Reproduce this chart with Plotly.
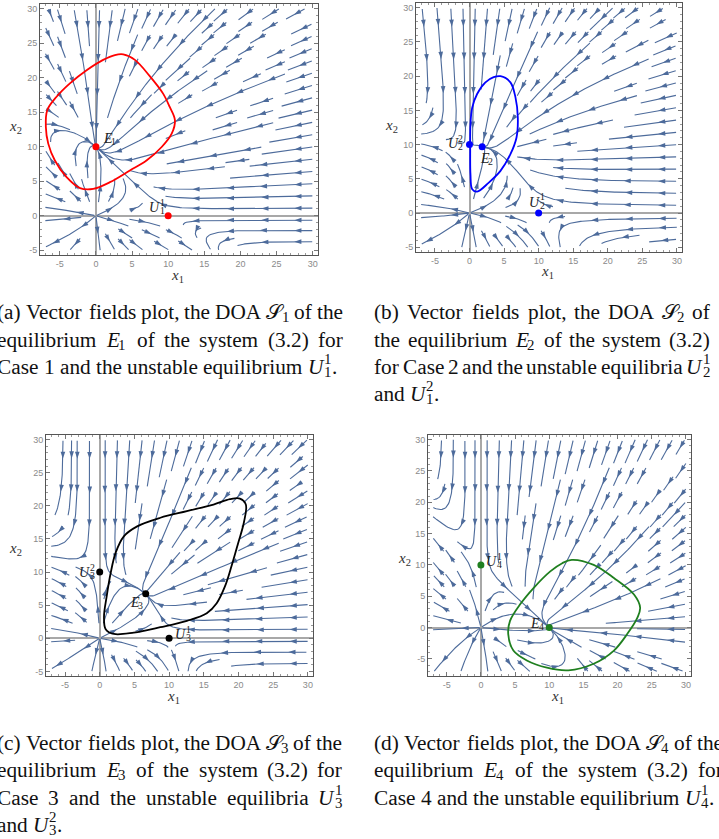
import math
import re
import numpy as np
import plotly.graph_objects as go

FIG_W, FIG_H = 719, 839

# ---------------- data ----------------
# system (3.2): x1' = x1 (r1 - a11 x1 - a12 x2), x2' = x2 (r2 - a21 x1 - a22 x2)
# parameters [r1, r2, a11, a12, a21, a22], chosen so the equilibria sit where the picture shows them
params_a = [1.0, 1.0, 0.1, 0.15, 0.05, 0.1]
params_b = [1.0, 1.0, 0.1, 0.0845, 0.0167, 0.1]
params_c = [1.0, 1.0, 0.1, 0.0507, 0.05, 0.1]
params_d = [1.0, 1.0, 0.1, 0.05, 0.15, 0.1]

# equilibria (x1, x2) and their labels (base, sup, sub)
eq_a_x = [0, 10]
eq_a_y = [10, 0]
eq_a_lab = [("E", "", "1"), ("U", "1", "1")]
eq_b_x = [1.83, 0, 10]
eq_b_y = [9.68, 10, 0]
eq_b_lab = [("E", "", "2"), ("U", "2", "2"), ("U", "1", "2")]
eq_c_x = [6.63, 0, 10]
eq_c_y = [6.72, 10, 0]
eq_c_lab = [("E", "", "3"), ("U", "2", "3"), ("U", "1", "3")]
eq_d_x = [10, 0]
eq_d_y = [0, 10]
eq_d_lab = [("E", "", "4"), ("U", "1", "4")]

# DOA boundary curves
doa_a_x = [3.78, 5.4, 7.48, 9.3, 10.2, 10.94, 10.49, 9.1, 7.0, 4.7, 1.94, -0.37, -2.2, -4.06, -5.68, -6.6, -6.93, -6.74, -5.45, -3.6, -1.29, 1.0, 2.63]
doa_a_y = [23.4, 22.6, 20.2, 17.7, 15.8, 13.85, 11.9, 9.96, 8.0, 6.56, 4.86, 3.89, 4.0, 5.58, 8.0, 10.45, 12.87, 15.3, 17.25, 19.2, 21.1, 22.6, 23.3]
doa_b_x = [4.48, 5.92, 6.65, 6.99, 6.8, 5.92, 4.48, 2.79, 1.1, 0.39, 0.14, 0.1, 0.14, 0.39, 1.1, 2.3, 3.5]
doa_b_y = [20.0, 19.1, 16.9, 13.97, 11.04, 8.6, 6.16, 4.45, 3.13, 3.47, 5.67, 9.1, 13.0, 15.4, 17.4, 19.1, 19.85]
doa_c_x = [20.2, 21.06, 20.77, 19.96, 19.0, 18.05, 16.86, 15.43, 12.56, 8.74, 4.92, 2.05, 0.86, 0.62, 1.0, 1.58, 2.29, 3.48, 5.4, 8.74, 12.56, 16.4, 18.77]
doa_c_y = [21.1, 20.2, 17.45, 14.4, 10.9, 7.83, 5.3, 3.79, 2.63, 1.67, 0.86, 0.65, 1.37, 3.28, 6.3, 9.86, 12.9, 15.4, 16.9, 18.2, 19.2, 20.2, 21.0]
doa_d_x = [13.3, 16.5, 19.46, 22.4, 23.3, 22.9, 21.4, 19.46, 16.5, 12.8, 9.66, 6.72, 4.75, 4.0, 4.26, 5.74, 7.7, 10.15, 11.9]
doa_d_y = [10.8, 10.0, 7.9, 5.27, 3.16, 1.58, -1.05, -3.68, -5.79, -6.84, -6.42, -5.26, -3.68, -1.05, 1.06, 3.7, 6.3, 8.96, 10.27]

tick_vals = [-5, 0, 5, 10, 15, 20, 25, 30]
tick_text = ["-5", "0", "5", "10", "15", "20", "25", "30"]

# captions ($B^p_b$ = math symbol B with superscript p and subscript b)
cap_a = ["(a) Vector fields plot, the DOA $𝒮_1$ of the",
         "equilibrium $E_1$ of the system (3.2) for",
         "Case 1 and the unstable equilibrium $U^1_1$."]
cap_b = ["(b) Vector fields plot, the DOA $𝒮_2$ of",
         "the equilibrium $E_2$ of the system (3.2)",
         "for Case 2 and the unstable equilibria $U^1_2$",
         "and $U^2_1$."]
cap_c = ["(c) Vector fields plot, the DOA $𝒮_3$ of the",
         "equilibrium $E_3$ of the system (3.2) for",
         "Case 3 and the unstable equilibria $U^1_3$",
         "and $U^2_3$."]
cap_d = ["(d) Vector fields plot, the DOA $𝒮_4$ of the",
         "equilibrium $E_4$ of the system (3.2) for",
         "Case 4 and the unstable equilibrium $U^1_4$."]

# ---------------- styling / layout ----------------
STREAM_COLOR = "#4d6b9b"
XR = [-7.74, 30.74]
SERIF = "Liberation Serif"

panels = [
    dict(params=params_a, ex=eq_a_x, ey=eq_a_y, lab=eq_a_lab, sinks=[0],
         lab_off=[(13, 8), (-12, 8)], doa_x=doa_a_x, doa_y=doa_a_y, col="#ff0000",
         px=(40, 318), py=(4, 255), yr=[-5.7, 30.7], box=(-7, 30, -5, 30),
         x1lab=(177, 276), x2lab=(15, 127)),
    dict(params=params_b, ex=eq_b_x, ey=eq_b_y, lab=eq_b_lab, sinks=[0],
         lab_off=[(4, -12), (-15, 1), (-3, 11)], doa_x=doa_b_x, doa_y=doa_b_y, col="#0000ff",
         px=(416, 682), py=(3, 252), yr=[-5.7, 30.7], box=(-7, 30, -5, 30),
         x1lab=(547, 272), x2lab=(391, 126)),
    dict(params=params_c, ex=eq_c_x, ey=eq_c_y, lab=eq_c_lab, sinks=[0],
         lab_off=[(-10, -9), (-14, 0), (13, 4)], doa_x=doa_c_x, doa_y=doa_c_y, col="#000000",
         px=(46, 313), py=(435, 676), yr=[-5.7, 30.7], box=(-7, 30, -5, 30),
         x1lab=(173, 697), x2lab=(15, 549)),
    dict(params=params_d, ex=eq_d_x, ey=eq_d_y, lab=eq_d_lab, sinks=[0],
         lab_off=[(-13, 4), (12, 3)], doa_x=doa_d_x, doa_y=doa_d_y, col="#1f7f1f",
         px=(428, 691), py=(435, 676), yr=[-7.74, 30.74], box=(-7, 30, -7, 30),
         x1lab=(557, 697), x2lab=(404, 559)),
]

# Times-like advance widths (per em) used to lay out justified captions
_W = {" ": .25, "(": .333, ")": .333, ",": .25, ".": .25,
      "a": .444, "b": .5, "c": .444, "d": .5, "e": .444, "f": .333, "g": .5, "h": .5, "i": .278,
      "j": .278, "k": .5, "l": .278, "m": .778, "n": .5, "o": .5, "p": .5, "q": .5, "r": .333,
      "s": .389, "t": .278, "u": .5, "v": .5, "w": .722, "x": .5, "y": .5, "z": .444,
      "A": .722, "C": .667, "D": .722, "E": .611, "O": .722, "S": .556, "U": .722, "V": .722,
      "𝒮": .72}


def tw(s, size):
    return sum(_W.get(ch, .5) for ch in s) * size


def build_streams(params, box, sx, sy, eqx, eqy, sinks, cell=12.0, step=1.5,
                  maxlen=700.0, minlen=14.0, gap=34.0):
    r1, r2, a11, a12, a21, a22 = params
    bx0, bx1, by0, by1 = box
    Wb, Hb = (bx1 - bx0) * sx, (by1 - by0) * sy
    nx, ny = int(math.ceil(Wb / cell)), int(math.ceil(Hb / cell))
    occ = np.zeros((ny, nx), dtype=bool)
    eqpx = [((ex - bx0) * sx, (ey - by0) * sy) for ex, ey in zip(eqx, eqy)]
    eqpx.append(((0 - bx0) * sx, (0 - by0) * sy))  # origin (source)
    free_r = [24.0 if k in sinks else 10.0 for k in range(len(eqx))] + [12.0]

    def vdir(px, py):
        x = bx0 + px / sx
        y = by0 + py / sy
        u = x * (r1 - a11 * x - a12 * y)
        v = y * (r2 - a21 * x - a22 * y)
        U, V = u * sx, v * sy
        n = math.hypot(U, V)
        if n < 1e-10:
            return None
        return U / n, V / n

    def cell_of(px, py):
        return (min(max(int(py // cell), 0), ny - 1), min(max(int(px // cell), 0), nx - 1))

    def is_free(px, py):
        for (ex, ey), r in zip(eqpx, free_r):
            if math.hypot(px - ex, py - ey) < r:
                return True
        return False

    def trace(px, py, sgn, own):
        pts = []
        L = 0.0
        cur = cell_of(px, py)
        while L < maxlen:
            d1 = vdir(px, py)
            if d1 is None:
                break
            mx, my = px + 0.5 * step * sgn * d1[0], py + 0.5 * step * sgn * d1[1]
            d2 = vdir(mx, my)
            if d2 is None:
                break
            if d1[0] * d2[0] + d1[1] * d2[1] < 0.3:
                break
            qx, qy = px + step * sgn * d2[0], py + step * sgn * d2[1]
            if not (0 <= qx <= Wb and 0 <= qy <= Hb):
                break
            near = min(math.hypot(qx - ex, qy - ey) for ex, ey in eqpx)
            if near < 2.0:
                pts.append((qx, qy))
                break
            c = cell_of(qx, qy)
            if c != cur:
                if occ[c] and c not in own and not is_free(qx, qy):
                    break
                own.add(c)
                cur = c
            px, py = qx, qy
            pts.append((px, py))
            L += step
        return pts

    cells = [(i, j) for i in range(ny) for j in range(nx)]
    cells.sort(key=lambda c: (min(c[0], c[1], ny - 1 - c[0], nx - 1 - c[1]), c[0], c[1]))
    lines = []
    for (i, j) in cells:
        if occ[i, j]:
            continue
        cx, cy = (j + 0.5) * cell, (i + 0.5) * cell
        if cx > Wb or cy > Hb or is_free(cx, cy):
            continue
        own = {(i, j)}
        fw = trace(cx, cy, 1, own)
        bw = trace(cx, cy, -1, own)
        line = bw[::-1] + [(cx, cy)] + fw
        if len(line) * step < minlen:
            continue
        for c in own:
            occ[c] = True
        lines.append(line)

    lx, ly, ax, ay, aang = [], [], [], [], []
    for line in lines:
        arr = np.array(line)
        for p in arr:
            lx.append(bx0 + p[0] / sx)
            ly.append(by0 + p[1] / sy)
        lx.append(None)
        ly.append(None)
        seg = np.hypot(np.diff(arr[:, 0]), np.diff(arr[:, 1]))
        s = np.concatenate([[0], np.cumsum(seg)])
        total = s[-1]
        if total < 10:
            continue
        marks = np.arange(min(gap * 0.5, total * 0.5), total - 4, gap)
        for m in marks:
            k = int(np.searchsorted(s, m))
            k = min(max(k, 1), len(arr) - 1)
            dx = arr[k, 0] - arr[k - 1, 0]
            dy = arr[k, 1] - arr[k - 1, 1]
            ax.append(bx0 + arr[k, 0] / sx)
            ay.append(by0 + arr[k, 1] / sy)
            aang.append(math.degrees(math.atan2(dx, dy)))
    return lx, ly, ax, ay, aang


annotations = []


def add_text(x, y, xref, yref, text, size, xshift=0, yshift=0, italic=False, color="#111"):
    t = f"<i>{text}</i>" if italic else text
    annotations.append(dict(x=x, y=y, xref=xref, yref=yref, text=t, showarrow=False,
                            xanchor="left", yanchor="middle", xshift=xshift, yshift=yshift,
                            borderpad=0, font=dict(family=SERIF, size=size, color=color)))


def add_math(x, y, xref, yref, base, sup, sub, size, xshift, yshift, color="#111", tail=""):
    """base symbol with stacked super/subscripts; left edge at xshift. returns width"""
    ital = base != "𝒮"
    wb = tw(base, size) + (0.04 * size if ital else 0)
    add_text(x, y, xref, yref, base, size, xshift, yshift, italic=ital, color=color)
    ss = size * 0.7
    wsc = 0
    if sup:
        add_text(x, y, xref, yref, sup, ss, xshift + wb, yshift + 0.36 * size, color=color)
        wsc = max(wsc, tw(sup, ss))
    if sub:
        add_text(x, y, xref, yref, sub, ss, xshift + wb - (0.06 * size if ital and not sup else 0),
                 yshift - 0.22 * size, color=color)
        wsc = max(wsc, tw(sub, ss))
    w = wb + wsc
    if tail:
        add_text(x, y, xref, yref, tail, size, xshift + w, yshift, color=color)
        w += tw(tail, size)
    return w


MATH = re.compile(r"^\$(.)(?:\^(.))?(?:_(.))?\$(.*)$")


def word_width(wd, size):
    m = MATH.match(wd)
    if not m:
        return tw(wd, size)
    base, sup, sub, tail = m.groups()
    ital = base != "𝒮"
    w = tw(base, size) + (0.04 * size if ital else 0)
    w += max(tw(sup or "", size * .7), tw(sub or "", size * .7))
    return w + tw(tail, size)


def add_caption_line(line, left, right, yc, size, justify):
    words = line.split(" ")
    widths = [word_width(w, size) for w in words]
    if justify and len(words) > 1:
        g = (right - left - sum(widths)) / (len(words) - 1)
    else:
        g = tw(" ", size)
    xpos = left
    yp = 1 - yc / FIG_H
    for wd, w in zip(words, widths):
        m = MATH.match(wd)
        if m:
            base, sup, sub, tail = m.groups()
            add_math(0, yp, "paper", "paper", base, sup, sub, size, xpos, 0, tail=tail)
        else:
            add_text(0, yp, "paper", "paper", wd, size, xpos, 0)
        xpos += w + g


fig = go.Figure()

for n, P in enumerate(panels, start=1):
    xa = "x" if n == 1 else f"x{n}"
    ya = "y" if n == 1 else f"y{n}"
    dom_x = [P["px"][0] / FIG_W, P["px"][1] / FIG_W]
    dom_y = [1 - P["py"][1] / FIG_H, 1 - P["py"][0] / FIG_H]
    W = P["px"][1] - P["px"][0]
    H = P["py"][1] - P["py"][0]
    sx = W / (XR[1] - XR[0])
    sy = H / (P["yr"][1] - P["yr"][0])

    lx, ly, axx, ayy, aang = build_streams(P["params"], P["box"], sx, sy, P["ex"], P["ey"], P["sinks"])
    fig.add_trace(go.Scatter(x=lx, y=ly, mode="lines", xaxis=xa, yaxis=ya,
                             line=dict(color=STREAM_COLOR, width=1.1), hoverinfo="skip",
                             showlegend=False))
    fig.add_trace(go.Scatter(x=axx, y=ayy, mode="markers", xaxis=xa, yaxis=ya,
                             marker=dict(symbol="arrow", size=7.5, angle=aang, color=STREAM_COLOR,
                                         line=dict(width=0)),
                             hoverinfo="skip", showlegend=False))
    fig.add_trace(go.Scatter(x=P["doa_x"] + [P["doa_x"][0]], y=P["doa_y"] + [P["doa_y"][0]],
                             mode="lines", xaxis=xa, yaxis=ya,
                             line=dict(color=P["col"], width=1.8, shape="spline", smoothing=1.0),
                             hoverinfo="skip", showlegend=False))
    fig.add_trace(go.Scatter(x=P["ex"], y=P["ey"], mode="markers", xaxis=xa, yaxis=ya,
                             marker=dict(color=P["col"], size=7), hoverinfo="skip",
                             showlegend=False))
    for x0, y0, (b, sp, sb), (ox, oy) in zip(P["ex"], P["ey"], P["lab"], P["lab_off"]):
        size = 14
        wtot = word_width(f"${b}" + (f"^{sp}" if sp else "") + (f"_{sb}" if sb else "") + "$", size)
        add_math(x0, y0, xa, ya, b, sp, sb, size, ox - wtot / 2, oy, color="#222")

    axis_common = dict(showgrid=False, zeroline=True, zerolinecolor="#a8a8a8", zerolinewidth=1.6,
                       showline=True, linecolor="#555", linewidth=1, mirror="allticks",
                       ticks="inside", ticklen=4, tickwidth=1, tickcolor="#777",
                       tickvals=tick_vals, ticktext=tick_text,
                       minor=dict(ticks="inside", ticklen=2, dtick=1, tick0=0, tickcolor="#999"),
                       tickfont=dict(family="Liberation Sans", size=9, color="#8a8a8a"),
                       fixedrange=True)
    fig.update_layout(**{
        ("xaxis" if n == 1 else f"xaxis{n}"): dict(axis_common, domain=dom_x, range=XR, anchor=ya),
        ("yaxis" if n == 1 else f"yaxis{n}"): dict(axis_common, domain=dom_y, range=P["yr"], anchor=xa),
    })
    for (lxp, lyp), sub in ((P["x1lab"], "1"), (P["x2lab"], "2")):
        annotations.append(dict(x=lxp / FIG_W, y=1 - lyp / FIG_H, xref="paper", yref="paper",
                                xanchor="center", yanchor="middle",
                                text=f"<i>x</i><sub>{sub}</sub>", showarrow=False,
                                font=dict(family=SERIF, size=15, color="#333")))

CAP = 21.3
caption_specs = [(cap_a, -4, 342, [312, 340, 367]),
                 (cap_b, 373, 709, [312, 340, 367, 394]),
                 (cap_c, -4, 341, [743, 770, 798, 825]),
                 (cap_d, 373, 722, [743, 770, 798])]
for lines, left, right, ys in caption_specs:
    for k, (txt, yy) in enumerate(zip(lines, ys)):
        add_caption_line(txt, left, right, yy, CAP, justify=(k < len(lines) - 1))

fig.update_layout(width=FIG_W, height=FIG_H, margin=dict(l=0, r=0, t=0, b=0),
                  paper_bgcolor="white", plot_bgcolor="white", annotations=annotations,
                  showlegend=False)
fig.write_html("out.html")
